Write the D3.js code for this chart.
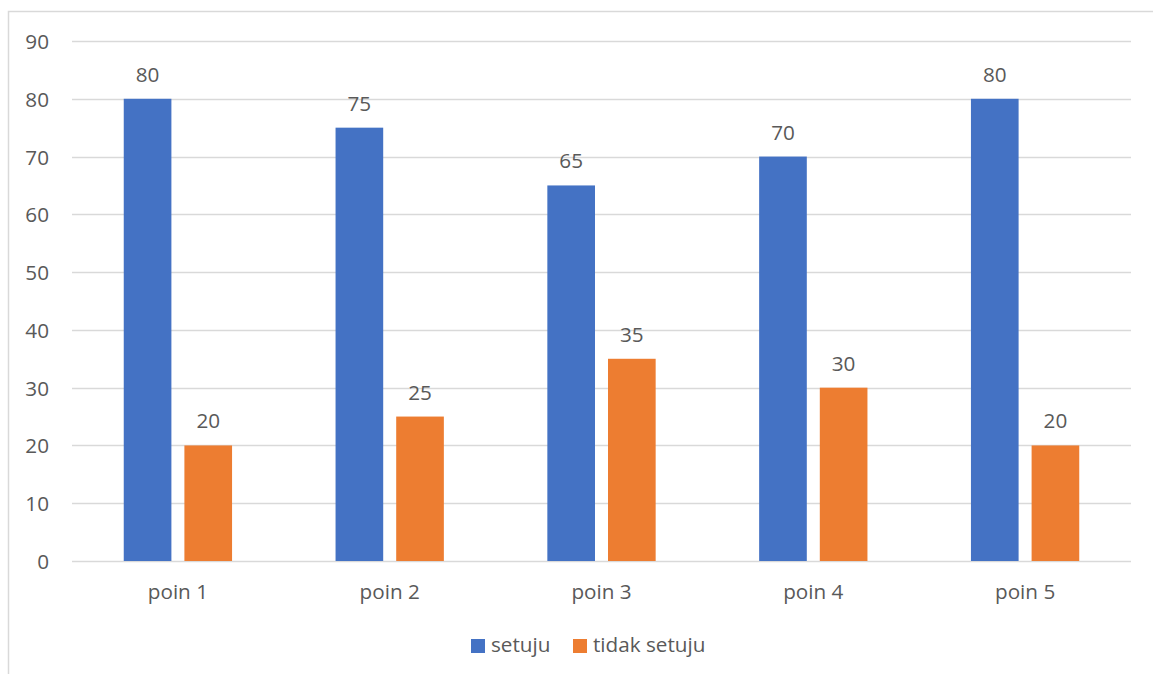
<!DOCTYPE html>
<html>
<head>
<meta charset="utf-8">
<script src="https://cdn.jsdelivr.net/npm/d3@7"></script>
<style>
  html, body { margin: 0; padding: 0; background: #fff; }
  svg { display: block; }
  text { font-family: "Open Sans", sans-serif; fill: #595959; }
</style>
</head>
<body>
<svg id="chart" width="1153" height="674"></svg>
<script>
// Survey responses per point
const categories = ["poin 1", "poin 2", "poin 3", "poin 4", "poin 5"];
const seriesNames = ["setuju", "tidak setuju"];
const setuju = [80, 75, 65, 70, 80];
const tidakSetuju = [20, 25, 35, 30, 20];
const yTicks = [0, 10, 20, 30, 40, 50, 60, 70, 80, 90];
const colors = ["#4472C4", "#ED7D31"];

const svg = d3.select("#chart");
const W = 1153, H = 674;
const FS = 20.7;

// Chart frame
svg.append("rect")
  .attr("x", 8.5).attr("y", 11.5)
  .attr("width", W + 20).attr("height", H + 20)
  .attr("fill", "none").attr("stroke", "#d9d9d9").attr("stroke-width", 1.5);

const plot = { left: 72, right: 1131, top: 41, bottom: 561 };

const y = d3.scaleLinear().domain([0, 90]).range([plot.bottom, plot.top]);
const x0 = d3.scaleBand().domain(categories).range([plot.left, plot.right]).paddingInner(0).paddingOuter(0);
const barW = x0.bandwidth() * 0.225;
const gap = 13;

// Gridlines
svg.append("g").selectAll("line").data(yTicks).join("line")
  .attr("x1", plot.left).attr("x2", plot.right)
  .attr("y1", d => Math.round(y(d)) + 0.5).attr("y2", d => Math.round(y(d)) + 0.5)
  .attr("stroke", "#d9d9d9").attr("stroke-width", 1.3);

// Y axis labels
const yAxis = d3.axisLeft(y).tickValues(yTicks).tickSize(0).tickPadding(0);
const gy = svg.append("g").attr("transform", `translate(49,0)`).call(yAxis);
gy.select(".domain").remove();
gy.selectAll("text").attr("font-size", FS).attr("font-family", "Open Sans, sans-serif")
  .attr("fill", "#595959").attr("dy", "0.36em");

// X axis labels
const xAxis = d3.axisBottom(x0).tickSize(0).tickPadding(0);
const gx = svg.append("g").attr("transform", `translate(0,${plot.bottom})`).call(xAxis);
gx.select(".domain").remove();
gx.selectAll("text").attr("font-size", FS).attr("font-family", "Open Sans, sans-serif")
  .attr("fill", "#595959").attr("dy", null).attr("y", 38);

// Bars
const series = [setuju, tidakSetuju];
series.forEach((vals, si) => {
  const g = svg.append("g");
  const xPos = c => x0(c) + x0.bandwidth() / 2 + (si === 0 ? -gap / 2 - barW : gap / 2);
  g.selectAll("rect").data(categories).join("rect")
    .attr("x", c => xPos(c))
    .attr("y", (c, i) => y(vals[i]))
    .attr("width", barW)
    .attr("height", (c, i) => y(0) - y(vals[i]))
    .attr("fill", colors[si]);
  g.selectAll("text").data(categories).join("text")
    .attr("x", c => xPos(c) + barW / 2)
    .attr("y", (c, i) => y(vals[i]) - 17)
    .attr("text-anchor", "middle")
    .attr("font-size", FS)
    .text((c, i) => vals[i]);
});

// Legend
const legend = svg.append("g");
const legendItems = [
  { name: seriesNames[0], color: colors[0], x: 471 },
  { name: seriesNames[1], color: colors[1], x: 573 }
];
legendItems.forEach(it => {
  legend.append("rect").attr("x", it.x).attr("y", 639).attr("width", 14).attr("height", 14).attr("fill", it.color);
  legend.append("text").attr("x", it.x + 20).attr("y", 652).attr("font-size", FS).text(it.name);
});
</script>
</body>
</html>
